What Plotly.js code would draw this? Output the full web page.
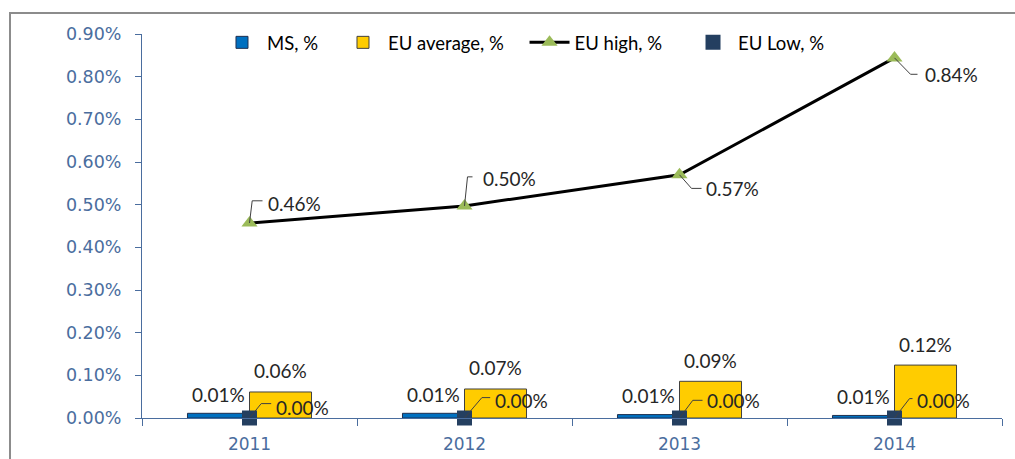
<!DOCTYPE html>
<html>
<head>
<meta charset="utf-8">
<script src="https://cdn.plot.ly/plotly-3.0.1.min.js"></script>
<style>
  html, body { margin: 0; padding: 0; background: #ffffff; }
  #chart { width: 1015px; height: 459px; }
  #frame { position: absolute; left: 9px; top: 12px; width: 1010px; height: 450px;
           border-top: 2px solid #8c8c8c; border-left: 2px solid #8c8c8c; pointer-events: none; }
</style>
</head>
<body>
<div id="chart"></div>
<div id="frame"></div>
<script>
// ---- data (values in percent) ----
const years = ['2011', '2012', '2013', '2014'];
const msValues = [0.011, 0.011, 0.008, 0.006];
const euAverage = [0.061, 0.068, 0.086, 0.124];
const euHigh = [0.457, 0.497, 0.570, 0.844];
const euLow = [0.0, 0.0, 0.0, 0.0];
const yTickValues = [0, 0.1, 0.2, 0.3, 0.4, 0.5, 0.6, 0.7, 0.8, 0.9];

// ---- label placement (pixel offsets from the point, y up; style only) ----
const highText = [[45, 19.6], [45, 27.5], [52.5, -13.6], [57, -16.4]];
const highLeader = ['M0,0 L2.7,22.2 L13,22.2', 'M0,0 L3,29.1 L8,29.1',
                    'M0,0 L12,-13.6 L22,-13.6', 'M0,0 L16,-16.4 L23,-16.4'];
const lowText = [[52.5, 11], [56.7, 17.7], [54, 17.7], [49, 17.7]];
const lowLeader = ['M0,0 L11.7,14.4 L21.7,14.4', 'M0,0 L17.4,20.4 L25.7,20.4',
                   'M0,0 L13.3,17.7 L23,17.7', 'M0,0 L15,19.4 L18,19.4'];

const fmt = v => v.toFixed(2) + '%';
const axisColor = '#4a6d9e';
const labelFont = { family: 'Lato, "Liberation Sans", sans-serif', size: 19, color: '#262626' };
const legendFont = { family: 'Lato, "Liberation Sans", sans-serif', size: 18.5, color: '#000000' };

const traces = [
  { type: 'bar', name: 'MS, %', x: years, y: msValues, legend: 'legend',
    marker: { color: '#0070c0', line: { color: '#1f3050', width: 1 } } },
  { type: 'bar', name: 'EU average, %', x: years, y: euAverage, legend: 'legend2',
    marker: { color: '#ffcc00', line: { color: '#404040', width: 1 } } },
  { type: 'scatter', mode: 'lines+markers', name: 'EU high, %', x: years, y: euHigh, legend: 'legend3',
    line: { color: '#000000', width: 3 },
    marker: { symbol: 'triangle-up', size: 14, color: '#9bbb59' } },
  { type: 'scatter', mode: 'markers', name: 'EU Low, %', x: years, y: euLow, legend: 'legend4',
    cliponaxis: false,
    marker: { symbol: 'square', size: 15, color: '#243f60' } }
];

// annotations / shapes on a category axis are placed by category index
const annotations = [];
const shapes = [];
const leader = (i, yv, path) => ({ type: 'path', xref: 'x', yref: 'y',
  xsizemode: 'pixel', ysizemode: 'pixel', xanchor: i, yanchor: yv, path: path,
  line: { color: '#404040', width: 1 }, layer: 'above' });
years.forEach((yr, i) => {
  annotations.push({ x: i, y: msValues[i], text: fmt(msValues[i]), showarrow: false,
    xshift: -31, yshift: 19, yanchor: 'middle', font: labelFont });
  annotations.push({ x: i, y: euAverage[i], text: fmt(euAverage[i]), showarrow: false,
    xshift: 31, yshift: 21, yanchor: 'middle', font: labelFont });
  annotations.push({ x: i, y: euHigh[i], text: fmt(euHigh[i]), showarrow: false,
    xshift: highText[i][0], yshift: highText[i][1], yanchor: 'middle', font: labelFont });
  annotations.push({ x: i, y: euLow[i], text: fmt(euLow[i]), showarrow: false,
    xshift: lowText[i][0], yshift: lowText[i][1], yanchor: 'middle', font: labelFont });
  shapes.push(leader(i, euHigh[i], highLeader[i]));
  shapes.push(leader(i, euLow[i], lowLeader[i]));
});

const legendBase = { orientation: 'h', xanchor: 'left', y: 0.977, yanchor: 'middle',
  font: legendFont, bgcolor: 'rgba(0,0,0,0)', itemwidth: 40 };

const layout = {
  width: 1015, height: 459,
  margin: { l: 142, r: 13, t: 34, b: 41 },
  paper_bgcolor: '#ffffff', plot_bgcolor: '#ffffff',
  barmode: 'group', bargap: 0.423, bargroupgap: 0,
  showlegend: true,
  legend: Object.assign({}, legendBase, { x: 0.0872 }),
  legend2: Object.assign({}, legendBase, { x: 0.2279 }),
  legend3: Object.assign({}, legendBase, { x: 0.4448 }),
  legend4: Object.assign({}, legendBase, { x: 0.6349 }),
  xaxis: { type: 'category', range: [-0.5, years.length - 0.5], autorange: false,
    showline: true, linecolor: axisColor, linewidth: 1,
    ticks: 'outside', tickson: 'boundaries', ticklen: 7, tickcolor: axisColor,
    showgrid: false, zeroline: false, ticklabelstandoff: 11,
    tickfont: { family: '"DejaVu Sans", Verdana, sans-serif', size: 17, color: axisColor } },
  yaxis: { range: [0, 0.9], autorange: false, tickmode: 'array', tickvals: yTickValues,
    ticktext: yTickValues.map(fmt),
    showline: true, linecolor: axisColor, linewidth: 1, ticks: 'outside', ticklen: 6,
    tickcolor: axisColor, showgrid: false, zeroline: false, ticklabelstandoff: 10,
    tickfont: { family: '"DejaVu Sans", Verdana, sans-serif', size: 17.5, color: axisColor } },
  annotations: annotations,
  shapes: shapes
};

Plotly.newPlot('chart', traces, layout, { staticPlot: true, displayModeBar: false });
</script>
</body>
</html>
